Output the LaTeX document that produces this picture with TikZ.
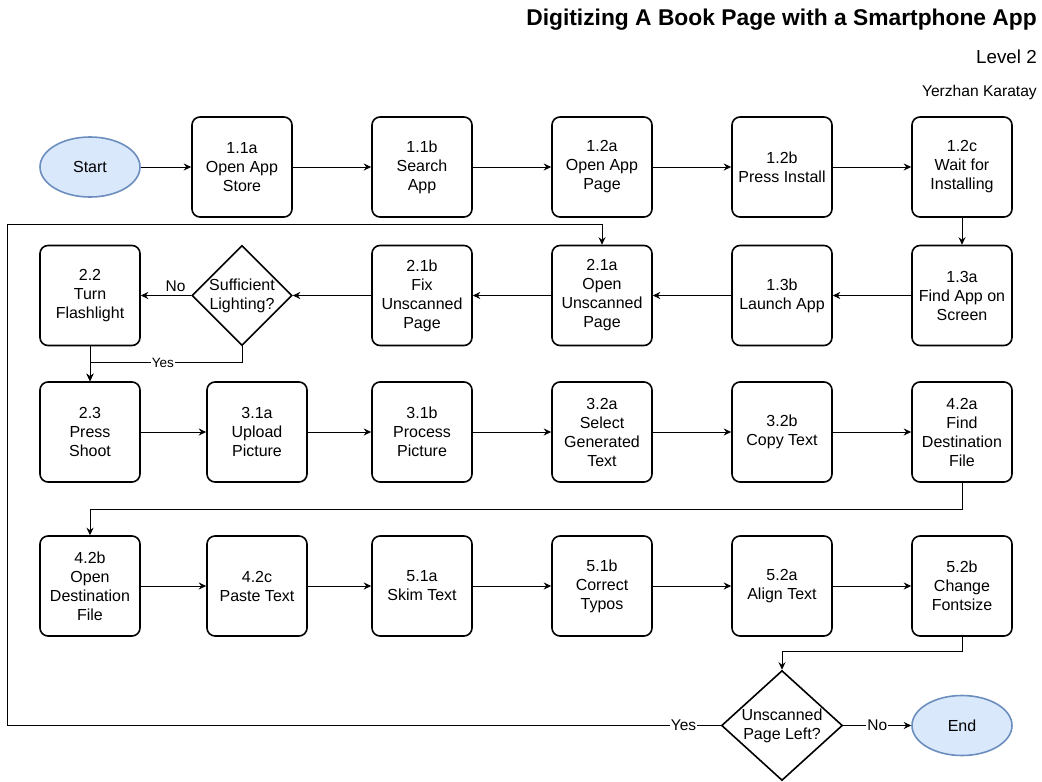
\documentclass[tikz,border=0pt]{standalone}
\usepackage{fontspec}
\setmainfont{Liberation Sans}
\usetikzlibrary{shapes.geometric,arrows.meta}
\definecolor{termfill}{HTML}{DAE8FC}
\definecolor{termdraw}{HTML}{6C8EBF}
\newcommand\myboxfont{\fontsize{16}{19}\selectfont}
\newcommand\mylblfont{\fontsize{15.5}{18}\selectfont}
\newcommand\mysmlblfont{\fontsize{13.5}{16}\selectfont}
\begin{document}
\begin{tikzpicture}[x=1pt,y=-1pt,
  box/.style={draw, line width=1.6pt, rounded corners=8pt, minimum width=100pt, minimum height=100pt, align=center, font=\myboxfont, inner sep=0pt},
  term/.style={ellipse, draw=termdraw, fill=termfill, line width=1.6pt, minimum width=100pt, minimum height=60pt, inner sep=0pt, font=\myboxfont},
  dec/.style={diamond, draw, line width=1.6pt, inner sep=0pt},
  conn/.style={-{Stealth[length=7.5pt,width=7pt,inset=2.5pt]}, line width=0.9pt},
  lbl/.style={fill=white, font=\mylblfont, inner sep=1pt},
  hdr/.style={anchor=east, inner sep=0pt}
]
\useasboundingbox (0,0) rectangle (1042,782);

% header
\node[hdr, font=\fontsize{22.8}{26}\selectfont\bfseries] (title) at (1037,20) {Digitizing A Book Page with a Smartphone App};
\node[hdr, font=\fontsize{18.8}{22}\selectfont] (level) at (1037,57) {Level 2};
\node[hdr, font=\fontsize{15.6}{18}\selectfont] (author) at (1037,92) {Yerzhan Karatay};

% row 1
\node[term] (start) at (90,167) {Start};
\node[box] (n11a) at (242,167) {1.1a\\Open App\\Store};
\node[box] (n11b) at (422,167) {1.1b\\Search\\App};
\node[box] (n12a) at (602,167) {1.2a\\Open App\\Page};
\node[box] (n12b) at (782,167) {1.2b\\Press Install};
\node[box] (n12c) at (962,167) {1.2c\\Wait for\\Installing};

% row 2
\node[box] (n22) at (90,295.5) {2.2\\Turn\\Flashlight};
\node[dec, minimum width=100pt, minimum height=100pt,
  label={[font=\myboxfont, align=center]center:{Sufficient\\Lighting?}}] (d1) at (242,295.5) {};
\node[box] (n21b) at (422,295.5) {2.1b\\Fix\\Unscanned\\Page};
\node[box] (n21a) at (602,295.5) {2.1a\\Open\\Unscanned\\Page};
\node[box] (n13b) at (782,295.5) {1.3b\\Launch App};
\node[box] (n13a) at (962,295.5) {1.3a\\Find App on\\Screen};

% row 3
\node[box] (n23) at (90,432) {2.3\\Press\\Shoot};
\node[box] (n31a) at (257,432) {3.1a\\Upload\\Picture};
\node[box] (n31b) at (422,432) {3.1b\\Process\\Picture};
\node[box] (n32a) at (602,432) {3.2a\\Select\\Generated\\Text};
\node[box] (n32b) at (782,432) {3.2b\\Copy Text};
\node[box] (n42a) at (962,432) {4.2a\\Find\\Destination\\File};

% row 4
\node[box] (n42b) at (90,586) {4.2b\\Open\\Destination\\File};
\node[box] (n42c) at (257,586) {4.2c\\Paste Text};
\node[box] (n51a) at (422,586) {5.1a\\Skim Text};
\node[box] (n51b) at (602,586) {5.1b\\Correct\\Typos};
\node[box] (n52a) at (782,586) {5.2a\\Align Text};
\node[box] (n52b) at (962,586) {5.2b\\Change\\Fontsize};

% bottom
\node[dec, minimum width=121pt, minimum height=110pt,
  label={[font=\myboxfont, align=center]center:{Unscanned\\Page Left?}}] (d2) at (782,725.5) {};
\node[term] (endn) at (962,725.5) {End};
\coordinate (loopL) at (7,725.5);

% connectors row 1
\draw[conn] (start) -- (n11a);
\draw[conn] (n11a) -- (n11b);
\draw[conn] (n11b) -- (n12a);
\draw[conn] (n12a) -- (n12b);
\draw[conn] (n12b) -- (n12c);
\draw[conn] (n12c) -- (n13a);

% row 2
\draw[conn] (n13a) -- (n13b);
\draw[conn] (n13b) -- (n21a);
\draw[conn] (n21a) -- (n21b);
\draw[conn] (n21b) -- (d1);
\draw[conn] (d1.west) -- node[pos=0.31, above=3pt, font=\mylblfont, inner sep=0pt] {No} (n22.east);
\draw[conn] (n22) -- (n23);
\draw[conn] (d1.south) -- ++(0,16.5) -| node[lbl, font=\mysmlblfont, pos=0.26] {Yes} (n23.north);

% row 3
\draw[conn] (n23) -- (n31a);
\draw[conn] (n31a) -- (n31b);
\draw[conn] (n31b) -- (n32a);
\draw[conn] (n32a) -- (n32b);
\draw[conn] (n32b) -- (n42a);
\draw[conn] (n42a.south) -- ++(0,27) -| (n42b.north);

% row 4
\draw[conn] (n42b) -- (n42c);
\draw[conn] (n42c) -- (n51a);
\draw[conn] (n51a) -- (n51b);
\draw[conn] (n51b) -- (n52a);
\draw[conn] (n52a) -- (n52b);
\draw[conn] (n52b.south) -- ++(0,15) -| (d2.north);

% decision
\draw[conn] (d2.east) -- node[lbl] {No} (endn.west);
\draw[conn] (d2.west) -- node[lbl, pos=0.052] {Yes} (loopL) |- ([yshift=20pt]n21a.north) -- (n21a.north);
\end{tikzpicture}
\end{document}
